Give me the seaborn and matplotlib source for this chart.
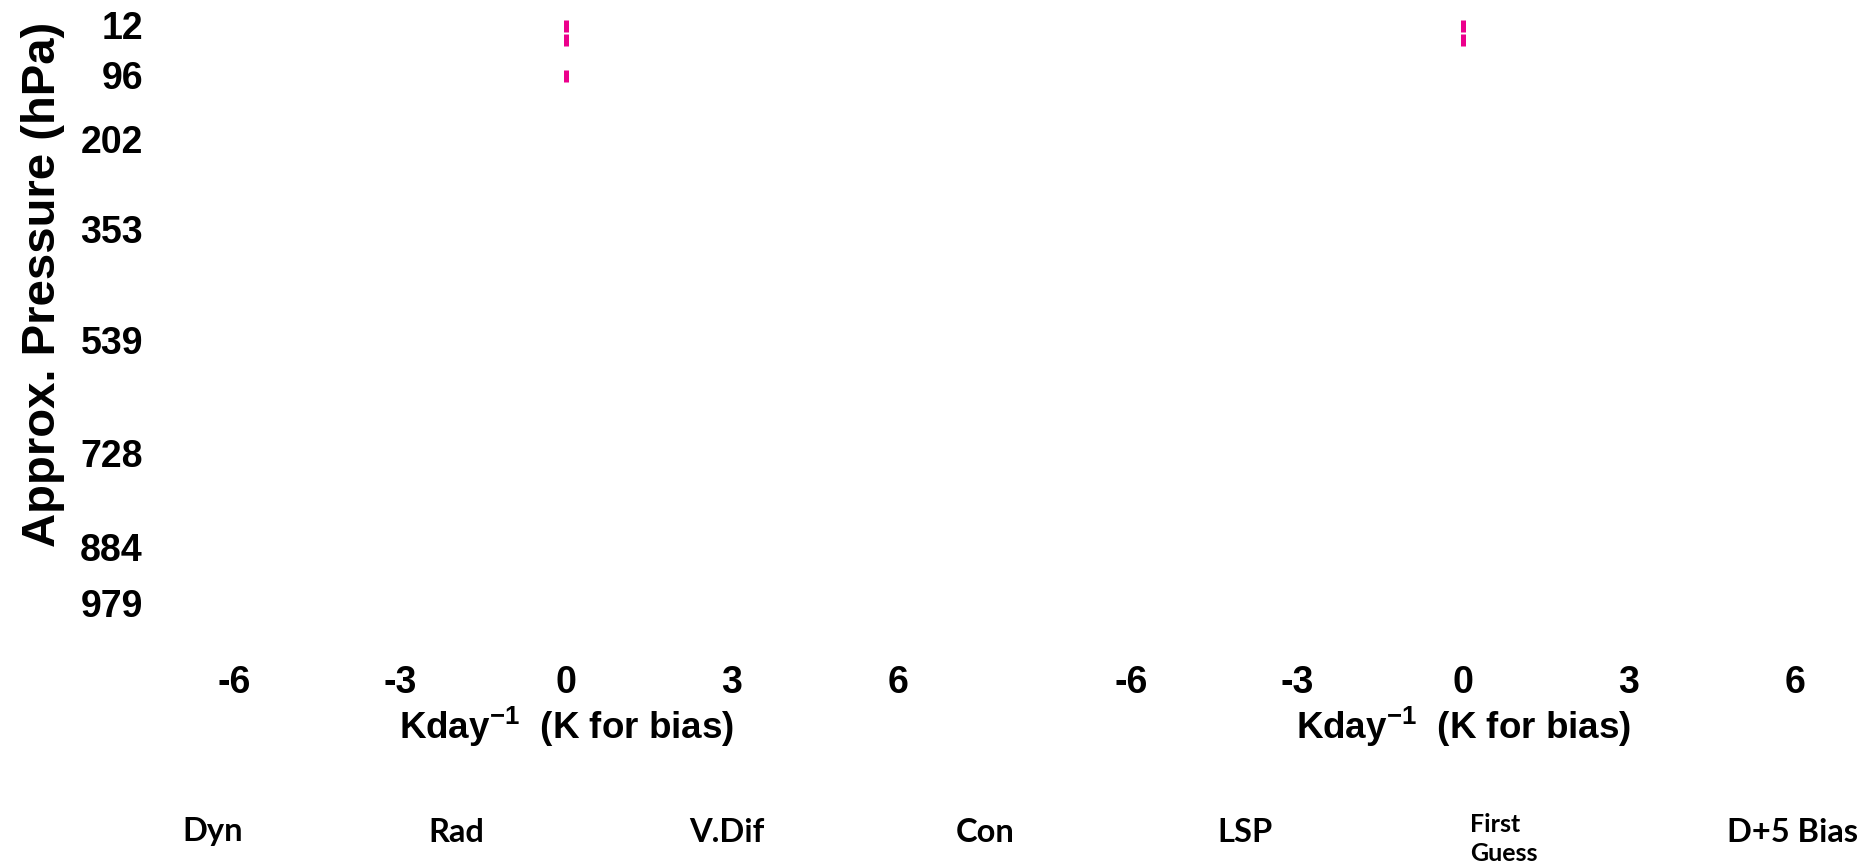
import matplotlib
matplotlib.use("Agg")
import matplotlib.pyplot as plt
import numpy as np
import pandas as pd
import seaborn as sns

# Pressure levels shown on the vertical axis (hPa)
pressure_ticks = [12, 96, 202, 353, 539, 728, 884, 979]
# Heating-rate axis ticks (K/day, K for bias)
rate_ticks = [-6, -3, 0, 3, 6]

# Series names listed under the panels
series_names = ["Dyn", "Rad", "V.Dif", "Con", "LSP", "First\nGuess", "D+5 Bias"]

# Visible profile pieces (x value, pressure in hPa, segment id) per panel
left_x = [0.0, 0.0, 0.0, 0.0]
left_p = [3.6, 48.8, 87.0, 107.0]
left_seg = [0, 0, 1, 1]
right_x = [0.0, 0.0]
right_p = [3.6, 48.8]
right_seg = [0, 0]

sns.set_theme(style="white")
plt.rcParams["font.family"] = ["Liberation Sans", "DejaVu Sans"]
plt.rcParams["font.weight"] = "bold"
plt.rcParams["text.color"] = "black"
plt.rcParams["axes.labelcolor"] = "black"
plt.rcParams["xtick.color"] = "black"
plt.rcParams["ytick.color"] = "black"
plt.rcParams["mathtext.fontset"] = "custom"
plt.rcParams["mathtext.rm"] = "Liberation Sans:bold"
plt.rcParams["mathtext.bf"] = "Liberation Sans:bold"
plt.rcParams["mathtext.it"] = "Liberation Sans:bold"
plt.rcParams["mathtext.default"] = "bf"

fig = plt.figure(figsize=(18.63, 8.66), dpi=100)
ax_l = fig.add_axes([0.0961, 0.2610, 0.4155, 0.7182])
ax_r = fig.add_axes([0.5776, 0.2610, 0.4155, 0.7182])

magenta = "#EC008C"
dash = (0, (2.4, 0.4))

for ax, xs, ps, seg in [(ax_l, left_x, left_p, left_seg),
                        (ax_r, right_x, right_p, right_seg)]:
    df = pd.DataFrame({"x": xs, "p": ps, "seg": seg})
    sns.lineplot(data=df, x="x", y="p", units="seg", estimator=None,
                 sort=False, color=magenta, linewidth=3.6,
                 linestyle=dash, ax=ax, legend=False)
    ax.set_xlim(-7, 7)
    ax.set_ylim(1040, 0)
    ax.set_xticks(rate_ticks)
    ax.set_xticklabels([str(t) for t in rate_ticks], fontsize=27,
                       fontweight="bold")
    ax.tick_params(axis="x", length=0, pad=18)
    ax.set_xlabel(r"Kday$^{-1}$  (K for bias)", fontsize=26.5,
                  fontweight="bold")
    ax.xaxis.set_label_coords(0.5, -0.105)
    ax.set_ylabel("")
    ax.grid(False)
    sns.despine(ax=ax, left=True, bottom=True, top=True, right=True)

ax_l.set_yticks(pressure_ticks)
ax_l.set_yticklabels([str(t) for t in pressure_ticks], fontsize=27,
                     fontweight="bold")
ax_l.tick_params(axis="y", length=0, pad=26)
ax_l.set_ylabel("Approx. Pressure (hPa)", fontsize=34, fontweight="bold")
ax_l.yaxis.label.set_verticalalignment("center")
ax_l.yaxis.label.set_horizontalalignment("center")
ax_l.yaxis.set_label_coords(-0.176, 0.571)
ax_r.set_yticks([])

# Series names along the bottom
name_x = [182, 428, 689, 956, 1217, 1470, 1727]
W, H = 1863, 866
for name, px in zip(series_names, name_x):
    small = "\n" in name
    fig.text(px / W, 1 - 839 / H if small else 1 - 832 / H, name,
             ha="left", va="center",
             fontsize=18 if small else 23.5, fontweight="bold",
             family=["Lato", "DejaVu Sans"], linespacing=1.3)

fig.savefig("out.png", dpi=100, facecolor="white")
